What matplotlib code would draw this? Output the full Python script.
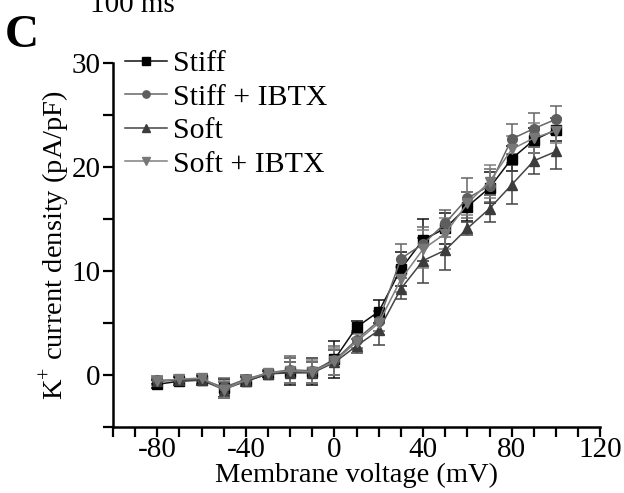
import numpy as np
import matplotlib.pyplot as plt
from matplotlib.ticker import MultipleLocator

plt.rcParams['font.family'] = ['Liberation Serif', 'DejaVu Serif']
plt.rcParams['mathtext.fontset'] = 'custom'
plt.rcParams['mathtext.rm'] = 'Liberation Serif'
plt.rcParams['axes.unicode_minus'] = False

voltage = [-80, -70, -60, -50, -40, -30, -20, -10, 0, 10, 20, 30, 40, 50, 60, 70, 80, 90, 100]

stiff = [-0.9, -0.6, -0.5, -1.3, -0.6, 0.1, 0.3, 0.3, 1.5, 4.6, 6.1, 10.2, 13.0, 14.1, 16.2, 18.0, 20.8, 22.6, 23.6]
stiff_err = [0.4, 0.4, 0.5, 0.9, 0.5, 0.3, 1.3, 1.3, 1.8, 0.6, 1.1, 1.6, 2.0, 1.5, 1.4, 1.5, 1.2, 1.2, 1.1]
stiff_ibtx = [-0.5, -0.5, -0.4, -1.2, -0.4, 0.2, 0.5, 0.4, 1.4, 3.4, 5.2, 11.2, 12.6, 14.6, 17.0, 18.2, 22.7, 23.7, 24.6]
stiff_ibtx_err = [0.4, 0.4, 0.5, 0.9, 0.4, 0.3, 1.3, 1.2, 1.4, 0.8, 1.0, 1.4, 1.6, 1.3, 1.9, 1.6, 1.4, 1.5, 1.3]
soft = [-0.6, -0.5, -0.5, -1.4, -0.6, 0.1, 0.2, 0.2, 1.2, 2.8, 4.3, 8.3, 11.0, 12.0, 14.1, 16.0, 18.3, 20.6, 21.5]
soft_err = [0.3, 0.3, 0.4, 0.7, 0.4, 0.3, 1.0, 1.0, 1.2, 0.7, 1.4, 1.0, 2.2, 1.9, 0.6, 1.3, 1.9, 1.3, 1.7]
soft_ibtx = [-0.6, -0.4, -0.3, -1.4, -0.5, 0.2, 0.4, 0.3, 1.3, 3.2, 5.0, 9.2, 12.1, 13.6, 16.5, 18.6, 21.7, 22.8, 23.5]
soft_ibtx_err = [0.4, 0.4, 0.4, 0.8, 0.5, 0.3, 1.2, 1.1, 1.3, 0.7, 1.2, 1.2, 1.8, 1.5, 1.1, 1.6, 1.3, 1.4, 1.2]

fig = plt.figure(figsize=(6.24, 4.93), dpi=100)
ax = fig.add_axes([0.181, 0.134, 0.781, 0.738])

series = [
    ('Stiff', stiff, stiff_err, 's', '#000000', '#111111'),
    ('Stiff + IBTX', stiff_ibtx, stiff_ibtx_err, 'o', '#5e5e5e', '#666666'),
    ('Soft', soft, soft_err, '^', '#3c3c3c', '#444444'),
    ('Soft + IBTX', soft_ibtx, soft_ibtx_err, 'v', '#777777', '#808080'),
]
handles = []
for name, vals, err, mk, mc, lc in series:
    eb = ax.errorbar(voltage, vals, yerr=err, fmt='-', marker=mk, color=lc,
                     mfc=mc, mec=mc, ms=7, lw=1.1, elinewidth=1.1, capsize=4,
                     capthick=1.1, label=name)
    handles.append(eb[0])

ax.set_xlim(-100, 120)
ax.set_ylim(-5, 30)
ax.xaxis.set_minor_locator(MultipleLocator(10))
ax.yaxis.set_major_locator(MultipleLocator(10))
ax.yaxis.set_minor_locator(MultipleLocator(5))
ax.set_xticks([-80, -40, 0, 40, 80, 120])
ax.tick_params(which='both', direction='out', length=7, width=1.6)
ax.tick_params(axis='x', labelsize=21, pad=0)
ax.tick_params(axis='y', labelsize=21, pad=2)
for s in ['top', 'right']:
    ax.spines[s].set_visible(False)
for s in ['left', 'bottom']:
    ax.spines[s].set_linewidth(1.8)

ax.set_xlabel('Membrane voltage (mV)', fontsize=20.5, labelpad=0)
ax.set_ylabel(r'K$^{+}$ current density (pA/pF)', fontsize=20.5, labelpad=-1)

ax.legend(handles, [s[0] for s in series], loc='upper left',
          bbox_to_anchor=(0.025, 1.035), frameon=False,
          fontsize=21.5, handlelength=1.4, handletextpad=0.2,
          labelspacing=0.22, borderpad=0, borderaxespad=0, markerscale=0.75)

fig.text(0.008, 0.905, 'C', fontsize=34, fontweight='bold', va='baseline')
fig.text(0.145, 0.976, '100 ms', fontsize=21, va='baseline')

fig.savefig('out.png', dpi=100)
